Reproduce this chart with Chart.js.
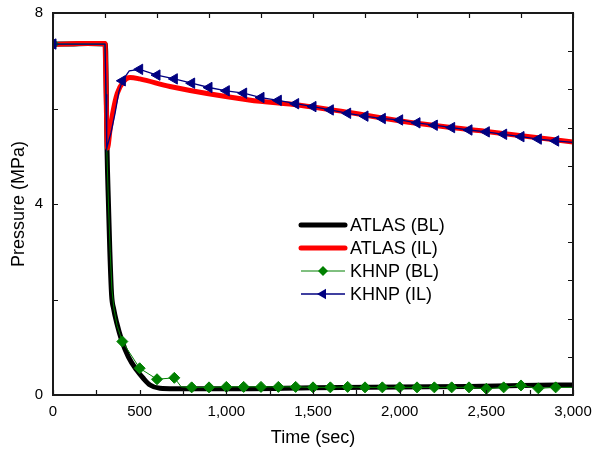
<!DOCTYPE html>
<html>
<head>
<meta charset="utf-8">
<script src="https://cdn.jsdelivr.net/npm/chart.js@4.4.0/dist/chart.umd.min.js"></script>
<style>
  html, body { margin: 0; padding: 0; background: #fff; }
  #wrap { width: 593px; height: 452px; position: relative; }
</style>
</head>
<body>
<div id="wrap"><canvas id="c" width="593" height="452"></canvas></div>
<script>
// ---- data ----
const atlasBLTime = [0, 100, 200, 300, 304, 312, 320, 328, 338, 350, 367, 396, 435, 483, 521, 560, 617, 700, 1000, 1500, 2000, 2400, 2700, 3000];
const atlasBLVal  = [7.35, 7.35, 7.36, 7.35, 7.2, 5.1, 4.0, 3.0, 2.1, 1.8, 1.52, 1.15, 0.80, 0.52, 0.35, 0.21, 0.14, 0.13, 0.13, 0.15, 0.17, 0.18, 0.20, 0.21];

const atlasILTime = [0, 150, 300, 304, 309, 314, 329, 348, 371, 406, 444, 500, 675, 1131, 1425, 1700, 2098, 2500, 3000];
const atlasILVal  = [7.34, 7.36, 7.36, 6.8, 5.8, 5.17, 5.55, 5.97, 6.32, 6.56, 6.65, 6.62, 6.46, 6.18, 6.07, 5.92, 5.69, 5.52, 5.30];

const khnpBLTime = [0, 300, 310, 320, 330, 340, 352, 370, 400, 500, 600, 700, 740, 800, 900, 1000, 1100, 1200, 1300, 1400, 1500, 1600, 1700, 1800, 1900, 2000, 2100, 2200, 2300, 2400, 2500, 2600, 2700, 2800, 2900, 3000];
const khnpBLVal  = [7.35, 7.35, 5.2, 4.0, 3.0, 2.2, 1.8, 1.45, 1.12, 0.56, 0.33, 0.36, 0.17, 0.16, 0.16, 0.17, 0.17, 0.17, 0.17, 0.17, 0.16, 0.16, 0.17, 0.16, 0.16, 0.16, 0.16, 0.16, 0.16, 0.16, 0.13, 0.16, 0.20, 0.14, 0.16, 0.16];

const khnpILTime = [0, 300, 306, 310, 335, 358, 380, 400, 440, 500, 600, 700, 800, 900, 1000, 1100, 1200, 1300, 1400, 1500, 1600, 1700, 1800, 1900, 2000, 2100, 2200, 2300, 2400, 2500, 2600, 2700, 2800, 2900, 3000];
const khnpILVal  = [7.35, 7.35, 6.3, 5.17, 5.5, 5.9, 6.35, 6.58, 6.79, 6.82, 6.70, 6.62, 6.53, 6.44, 6.37, 6.32, 6.23, 6.17, 6.10, 6.04, 5.97, 5.90, 5.84, 5.79, 5.76, 5.70, 5.65, 5.60, 5.55, 5.51, 5.46, 5.41, 5.36, 5.32, 5.29];

const xTickValues = [0, 500, 1000, 1500, 2000, 2500, 3000];
const yTickValues = [0, 4, 8];
const seriesNames = ['ATLAS (BL)', 'ATLAS (IL)', 'KHNP (BL)', 'KHNP (IL)'];

// ---- helpers ----
const toXY = (t, v) => t.map((x, i) => ({ x: x, y: v[i] }));
const FONT = '"Liberation Sans", Arial, Helvetica, sans-serif';
const markerShown = (ctx) => {
  const r = ctx.raw;
  if (!r) return false;
  return r.x === 0 || (r.x >= 400 && r.x <= 2900 && r.x % 100 === 0);
};

const COLORS = { black: '#000000', red: '#ff0000', green: '#008000', blue: '#000080' };

// inward ticks + frame + legend drawn through the chart's own scales
const decorPlugin = {
  id: 'decor',
  afterDatasetsDraw(chart) {
    const { ctx, chartArea: a, scales } = chart;
    const xs = scales.x, ys = scales.y;
    ctx.save();
    ctx.strokeStyle = '#111';
    ctx.lineWidth = 1.2;
    ctx.beginPath();
    for (let v = 0; v <= 3000; v += 250) {
      const px = Math.round(xs.getPixelForValue(v)) + 0.5;
      ctx.moveTo(px, a.bottom); ctx.lineTo(px, a.bottom - 5);
    }
    for (let v = 0; v <= 3000; v += 300) {
      const px = Math.round(xs.getPixelForValue(v)) + 0.5;
      ctx.moveTo(px, a.top); ctx.lineTo(px, a.top + 5);
    }
    for (let v = 0; v <= 8; v += 2) {
      const py = Math.round(ys.getPixelForValue(v)) + 0.5;
      ctx.moveTo(a.left, py); ctx.lineTo(a.left + 5, py);
    }
    for (let k = 0; k <= 10; k++) {
      const py = Math.round(ys.getPixelForValue(k * 0.8)) + 0.5;
      ctx.moveTo(a.right, py); ctx.lineTo(a.right - 5, py);
    }
    ctx.stroke();
    ctx.lineWidth = 2;
    ctx.strokeStyle = '#1a1a1a';
    ctx.strokeRect(a.left, a.top, a.right - a.left, a.bottom - a.top);
    ctx.restore();

    // legend
    const rows = [225, 248, 271, 294];
    const x0 = 301, x1 = 345, tx = 350;
    ctx.save();
    chart.data.datasets.forEach((ds, i) => {
      const y = rows[i];
      ctx.beginPath();
      ctx.strokeStyle = ds.borderColor;
      ctx.lineWidth = ds.borderWidth;
      ctx.lineCap = ds.borderWidth > 2 ? 'round' : 'butt';
      ctx.moveTo(x0, y); ctx.lineTo(x1, y);
      ctx.stroke();
      const mx = (x0 + x1) / 2;
      ctx.fillStyle = ds.pointBackgroundColor || ds.borderColor;
      if (ds.legendMarker === 'diamond') {
        const r = 5;
        ctx.beginPath();
        ctx.moveTo(mx, y - r); ctx.lineTo(mx + r, y); ctx.lineTo(mx, y + r); ctx.lineTo(mx - r, y);
        ctx.closePath(); ctx.fill();
      } else if (ds.legendMarker === 'triLeft') {
        const r = 6;
        ctx.beginPath();
        ctx.moveTo(mx - r, y);
        ctx.lineTo(mx + r * 0.5, y - r * 0.866);
        ctx.lineTo(mx + r * 0.5, y + r * 0.866);
        ctx.closePath(); ctx.fill();
      }
      ctx.fillStyle = '#000';
      ctx.font = '18px ' + FONT;
      ctx.textBaseline = 'middle';
      ctx.textAlign = 'left';
      ctx.fillText(ds.label, tx, y + 1);
    });
    ctx.restore();
  }
};

new Chart(document.getElementById('c'), {
  type: 'line',
  data: {
    datasets: [
      {
        label: seriesNames[0], data: toXY(atlasBLTime, atlasBLVal),
        borderColor: COLORS.black, borderWidth: 5, pointRadius: 0,
        cubicInterpolationMode: 'monotone', order: 4
      },
      {
        label: seriesNames[1], data: toXY(atlasILTime, atlasILVal),
        borderColor: COLORS.red, borderWidth: 5, pointRadius: 0,
        cubicInterpolationMode: 'monotone', order: 3
      },
      {
        label: seriesNames[2], data: toXY(khnpBLTime, khnpBLVal),
        borderColor: COLORS.green, borderWidth: 1, pointStyle: 'rectRot',
        pointRadius: (c) => markerShown(c) ? 5.5 : 0,
        pointBackgroundColor: COLORS.green, pointBorderColor: COLORS.green, pointBorderWidth: 1,
        order: 2, legendMarker: 'diamond'
      },
      {
        label: seriesNames[3], data: toXY(khnpILTime, khnpILVal),
        borderColor: COLORS.blue, borderWidth: 1.3, pointStyle: 'triangle', pointRotation: -90,
        pointRadius: (c) => markerShown(c) ? 6 : 0,
        pointBackgroundColor: COLORS.blue, pointBorderColor: COLORS.blue, pointBorderWidth: 1,
        order: 1, legendMarker: 'triLeft'
      }
    ]
  },
  options: {
    responsive: false,
    animation: false,
    layout: { padding: { top: 13, right: 20, left: 0, bottom: 0 } },
    plugins: { legend: { display: false }, tooltip: { enabled: false } },
    scales: {
      x: {
        type: 'linear', min: 0, max: 3000,
        afterFit: (s) => { s.height = 57; s.paddingLeft = 0; s.paddingRight = 0; },
        afterBuildTicks: (s) => { s.ticks = xTickValues.map(v => ({ value: v })); },
        grid: { display: false, drawTicks: false },
        border: { display: false },
        ticks: {
          color: '#000', font: { size: 15, family: FONT }, padding: 8, maxRotation: 0,
          callback: (v) => Number(v).toLocaleString('en-US')
        },
        title: { display: true, text: 'Time (sec)', color: '#000', font: { size: 18, family: FONT }, padding: { top: 0, bottom: 3 } }
      },
      y: {
        type: 'linear', min: 0, max: 8,
        afterFit: (s) => { s.width = 53; s.paddingTop = 0; s.paddingBottom = 0; },
        afterBuildTicks: (s) => { s.ticks = yTickValues.map(v => ({ value: v })); },
        grid: { display: false, drawTicks: false },
        border: { display: false },
        ticks: { color: '#000', font: { size: 15, family: FONT }, padding: 10 },
        title: { display: true, text: 'Pressure (MPa)', color: '#000', font: { size: 18, family: FONT }, padding: { top: 8, bottom: 0 } }
      }
    }
  },
  plugins: [decorPlugin]
});
</script>
</body>
</html>
